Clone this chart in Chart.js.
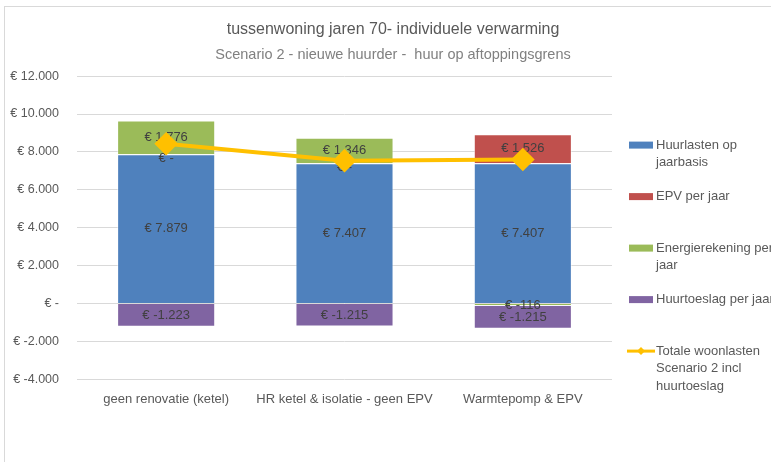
<!DOCTYPE html>
<html>
<head>
    <title>tussenwoning jaren 70</title>
    <script src="https://cdn.jsdelivr.net/npm/chart.js"></script>
    <style>
        body { margin: 0; overflow: hidden; background: #fff; }
        #frame { position: absolute; left: 4px; top: 6px; width: 790px; height: 470px;
                 border-left: 1px solid #d9d9d9; border-top: 1px solid #d9d9d9; }
    </style>
</head>
<body>
    <div id="frame">
        <canvas id="myChart" width="776" height="455"></canvas>
    </div>

    <script>
        // chart data
        const categories = ['geen renovatie (ketel)', 'HR ketel & isolatie - geen EPV', 'Warmtepomp & EPV'];
        const huurlasten = [7879, 7407, 7407];
        const epv = [0, 0, 1526];
        const energie = [1776, 1346, -116];
        const huurtoeslag = [-1223, -1215, -1215];
        const totaal = [8432, 7538, 7602];
        const yTicks = [-4000, -2000, 0, 2000, 4000, 6000, 8000, 10000, 12000];

        const legendTexts = [
            ['Huurlasten op', 'jaarbasis'],
            ['EPV per jaar'],
            ['Energierekening per', 'jaar'],
            ['Huurtoeslag per jaar'],
            ['Totale woonlasten', 'Scenario 2 incl', 'huurtoeslag']
        ];

        const FONT = '"Liberation Sans", Arial, sans-serif';

        function euro(v) {
            if (v === 0) return '€ -';
            const s = String(Math.abs(v)).replace(/\B(?=(\d{3})+(?!\d))/g, '.');
            return '€ ' + (v < 0 ? '-' : '') + s;
        }

        // value labels inside the bar segments, drawn just before the line
        const barLabels = {
            id: 'barLabels',
            beforeDatasetDraw(chart, args) {
                if (args.meta.type !== 'line') return;
                const ctx = chart.ctx;
                ctx.save();
                ctx.font = '13px ' + FONT;
                ctx.fillStyle = '#404040';
                ctx.textAlign = 'center';
                ctx.textBaseline = 'middle';
                chart.data.datasets.forEach((ds, i) => {
                    const meta = chart.getDatasetMeta(i);
                    if (meta.type !== 'bar') return;
                    meta.data.forEach((bar, j) => {
                        const v = ds.data[j];
                        const y = v === 0 ? bar.base + 4 : (bar.y + bar.base) / 2;
                        ctx.fillText(euro(v), bar.x, y);
                    });
                });
                ctx.restore();
            }
        };

        // legend on the right, like the spreadsheet one
        const sideLegend = {
            id: 'sideLegend',
            afterDraw(chart) {
                const ctx = chart.ctx;
                const area = chart.chartArea;
                const x = area.right + 17;
                let y = area.top + 69;
                ctx.save();
                ctx.font = '13px ' + FONT;
                ctx.textBaseline = 'middle';
                ctx.textAlign = 'left';
                chart.data.datasets.forEach((ds, i) => {
                    if (ds.type === 'line') {
                        ctx.strokeStyle = ds.borderColor;
                        ctx.lineWidth = 3;
                        ctx.beginPath();
                        ctx.moveTo(x - 2, y);
                        ctx.lineTo(x + 26, y);
                        ctx.stroke();
                        ctx.fillStyle = ds.borderColor;
                        ctx.beginPath();
                        ctx.moveTo(x + 12, y - 4);
                        ctx.lineTo(x + 16, y);
                        ctx.lineTo(x + 12, y + 4);
                        ctx.lineTo(x + 8, y);
                        ctx.fill();
                    } else {
                        ctx.fillStyle = ds.backgroundColor;
                        ctx.fillRect(x, y - 3.5, 24, 7);
                    }
                    ctx.fillStyle = '#595959';
                    legendTexts[i].forEach((t, k) => ctx.fillText(t, x + 27, y + k * 17.5));
                    y += 51.5;
                });
                ctx.restore();
            }
        };

        const ctx = document.getElementById('myChart').getContext('2d');
        const myChart = new Chart(ctx, {
            data: {
                labels: categories,
                datasets: [
                    { type: 'bar', label: 'Huurlasten op jaarbasis', data: huurlasten,
                      backgroundColor: '#4F81BD', borderColor: 'rgba(255,255,255,0.5)', borderWidth: 1 },
                    { type: 'bar', label: 'EPV per jaar', data: epv,
                      backgroundColor: '#C0504D', borderColor: 'rgba(255,255,255,0.5)', borderWidth: 1 },
                    { type: 'bar', label: 'Energierekening per jaar', data: energie,
                      backgroundColor: '#9BBB59', borderColor: 'rgba(255,255,255,0.5)', borderWidth: 1 },
                    { type: 'bar', label: 'Huurtoeslag per jaar', data: huurtoeslag,
                      backgroundColor: '#8064A2', borderColor: 'rgba(255,255,255,0.5)', borderWidth: 1 },
                    { type: 'line', label: 'Totale woonlasten Scenario 2 incl huurtoeslag', data: totaal,
                      borderColor: '#FFC000', backgroundColor: '#FFC000', borderWidth: 4,
                      pointStyle: 'rectRot', pointRadius: 9, pointBackgroundColor: '#FFC000',
                      pointBorderColor: '#FFC000', tension: 0, order: -1 }
                ]
            },
            options: {
                responsive: false,
                animation: false,
                layout: { padding: { bottom: 51 } },
                datasets: { bar: { barPercentage: 0.55, categoryPercentage: 1 } },
                plugins: {
                    legend: { display: false },
                    tooltip: { enabled: false },
                    title: {
                        display: true,
                        text: 'tussenwoning jaren 70- individuele verwarming',
                        color: '#595959',
                        font: { family: FONT, size: 16, weight: 'normal' },
                        padding: { top: 13, bottom: 7 }
                    },
                    subtitle: {
                        display: true,
                        text: 'Scenario 2 - nieuwe huurder -  huur op aftoppingsgrens',
                        color: '#808080',
                        font: { family: FONT, size: 14.5, weight: 'normal' },
                        padding: { top: 0, bottom: 12.5 }
                    }
                },
                scales: {
                    x: {
                        stacked: true,
                        grid: { display: false },
                        border: { display: false },
                        ticks: { color: '#595959', font: { family: FONT, size: 13 }, padding: 4,
                                 maxRotation: 0, autoSkip: false }
                    },
                    y: {
                        stacked: true,
                        min: yTicks[0],
                        max: yTicks[yTicks.length - 1],
                        afterBuildTicks: s => { s.ticks = yTicks.map(v => ({ value: v })); },
                        afterFit: s => { s.width = 72; },
                        grid: { color: '#d9d9d9', drawTicks: false },
                        border: { display: false },
                        ticks: { color: '#595959', font: { family: FONT, size: 12.5 }, padding: 18,
                                 callback: v => euro(v) }
                    },
                    // empty box on the right that keeps room for the legend
                    legendSpace: {
                        type: 'linear',
                        position: 'right',
                        grid: { display: false },
                        border: { display: false },
                        ticks: { display: false },
                        afterFit: s => { s.width = 169; }
                    }
                }
            },
            plugins: [barLabels, sideLegend]
        });
    </script>
</body>
</html>
